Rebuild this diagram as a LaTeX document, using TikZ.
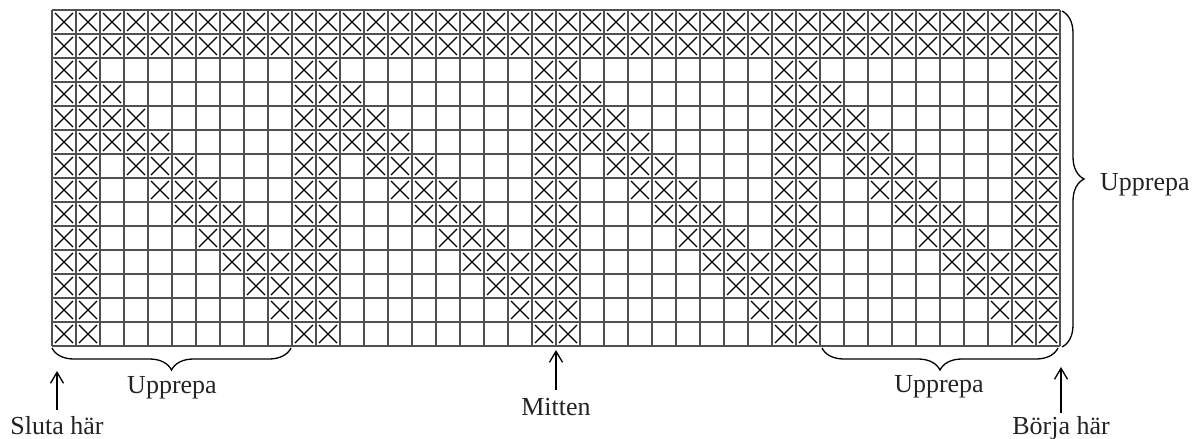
\documentclass[tikz,border=0pt]{standalone}
\usepackage{fontspec}
\setmainfont{Liberation Serif}
\usetikzlibrary{decorations.pathreplacing,arrows.meta}
\definecolor{gridgray}{RGB}{80,80,80}
\definecolor{txt}{RGB}{35,35,35}
\newcommand{\xmark}[2]{\draw[xline] ({52+24*#1+3},{10+24*#2+3}) -- ++(18,18) ({52+24*#1+21},{10+24*#2+3}) -- ++(-18,18);}
\begin{document}
\begin{tikzpicture}[x=1pt,y=-1pt,
  gridline/.style={draw=gridgray,line width=1.1pt},
  xline/.style={draw=black,line width=1.35pt},
  bracepath/.style={draw=black,line width=1.3pt,decorate,decoration={brace,amplitude=22pt}},
  lbl/.style={inner sep=0pt,text=txt,font=\fontsize{26}{30}\selectfont},
  arr/.style={draw=black,line width=1.3pt,-{Straight Barb[length=11pt,width=13pt]}}]
\useasboundingbox (0,0) rectangle (1200,439);
% grid
\foreach \i in {0,...,42} {\draw[gridline] ({52+24*\i},10) -- ({52+24*\i},346);}
\foreach \j in {0,...,14} {\draw[gridline] (52,{10+24*\j}) -- (1060,{10+24*\j});}
% top two rows
\foreach \c in {0,...,41} {\xmark{\c}{0}\xmark{\c}{1}}
% pillars
\foreach \r in {2,...,13} {\foreach \c in {0,1,10,11,20,21,30,31,40,41} {\xmark{\c}{\r}}}
% diagonals
\foreach \r in {3,...,12} {
  \foreach \s in {0,...,3} {
    \foreach \d in {5,4,3} {
      \pgfmathtruncatemacro{\f}{\r-\d}
      \ifnum\f>-1 \ifnum\f<8
        \pgfmathtruncatemacro{\cc}{2+10*\s+\f}
        \xmark{\cc}{\r}
      \fi\fi
    }
  }
}
% braces
\coordinate (blA) at (52,348);
\coordinate (blB) at (291,348);
\coordinate (brA) at (822,348);
\coordinate (brB) at (1058,348);
\coordinate (rA) at (1062,11);
\coordinate (rB) at (1062,347);
\draw[bracepath,decoration={mirror}] (blA) -- (blB);
\draw[bracepath,decoration={mirror}] (brA) -- (brB);
\draw[bracepath] (rA) -- (rB);
% labels
\node[lbl,anchor=base] (up1) at (172,393) {Upprepa};
\node[lbl,anchor=base] (up2) at (939,392) {Upprepa};
\node[lbl,anchor=base west] (up3) at (1100,190) {Upprepa};
\node[lbl,anchor=base] (sluta) at (57,434) {Sluta här};
\node[lbl,anchor=base] (mitten) at (556,415) {Mitten};
\node[lbl,anchor=base] (borja) at (1061,434) {Börja här};
% arrows
\coordinate (slutatail) at (57,410);
\coordinate (slutatip) at (57,371);
\coordinate (mittentail) at (556,390);
\coordinate (mittentip) at (556,350);
\coordinate (borjatail) at (1061,413);
\coordinate (borjatip) at (1061,367);
\draw[arr] (slutatail) -- (slutatip);
\draw[arr] (mittentail) -- (mittentip);
\draw[arr] (borjatail) -- (borjatip);
\end{tikzpicture}
\end{document}
